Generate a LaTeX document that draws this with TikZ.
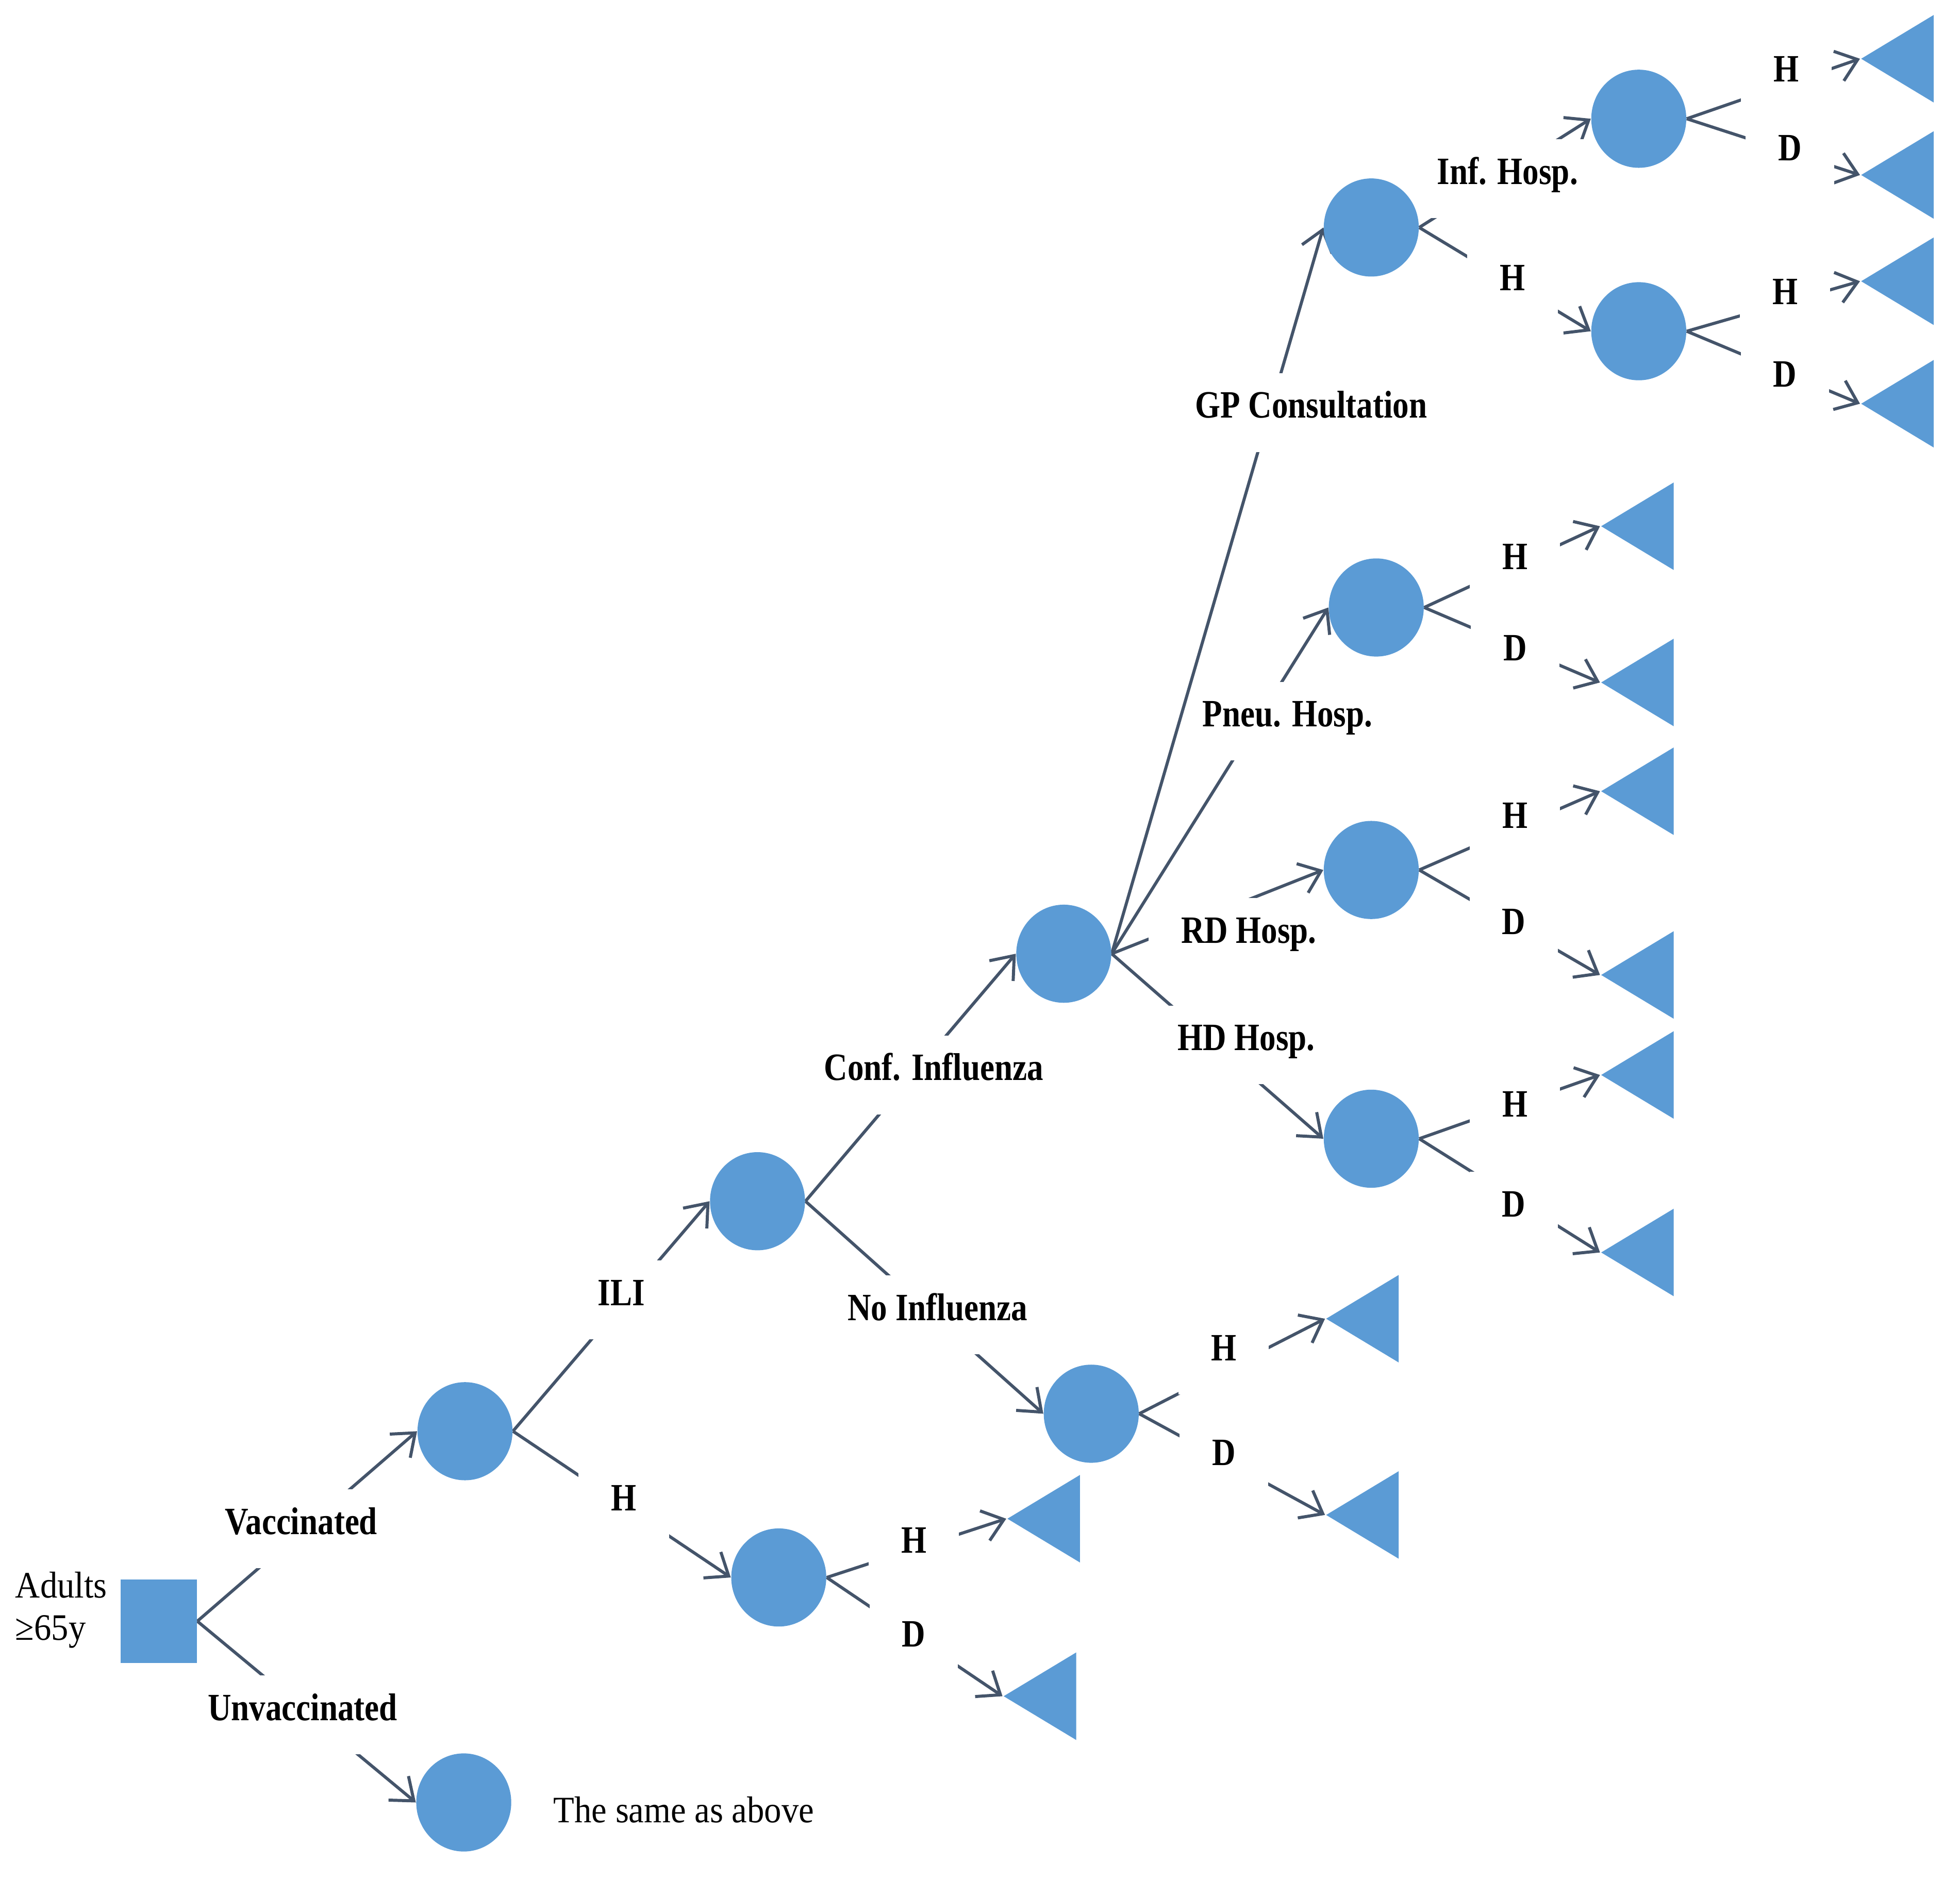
\documentclass[tikz,border=0pt]{standalone}
\usepackage{fontspec}
\setmainfont[FakeStretch=0.92]{Liberation Serif}
\newfontfamily\lblfont[FakeStretch=0.84]{Liberation Serif Bold}
\usetikzlibrary{arrows.meta,shapes.geometric,backgrounds}
\definecolor{treeBlue}{RGB}{91,155,213}
\definecolor{treeLine}{RGB}{68,84,106}

\begin{document}
\begin{tikzpicture}[
  x=0.2mm, y=-0.2mm,
  font=\fontsize{17}{19.3}\selectfont,
  decision/.style={rectangle, fill=treeBlue, inner sep=0,
    minimum width=12.2mm, minimum height=13.4mm},
  chance/.style={ellipse, fill=treeBlue, inner sep=0,
    minimum width=15.2mm, minimum height=15.7mm},
  leaf/.style={isosceles triangle, isosceles triangle stretches,
    shape border rotate=180, fill=treeBlue, inner sep=0,
    minimum width=14mm, minimum height=11.6mm, anchor=apex},
  branch/.style={treeLine, line width=1.4pt,
    -{Straight Barb[length=3.2mm,width=5mm]}},
  brlabel/.style={fill=white, inner xsep=5.2mm, minimum height=12.6mm,
    text height=0.7em, text depth=0.2em,
    font=\fontsize{17.6}{20}\lblfont}
]
  \useasboundingbox (0,0) rectangle (1568,1503);

  % decision and chance nodes
  \node[decision] (root) at (127,1297) {};
  \node[inner sep=0, anchor=west, align=left] (adults) at (12,1288)
    {Adults\\≥65y};
  \node[chance] (vac)   at (372,1145) {};
  \node[chance] (unvac) at (371,1442) {};
  \node (same) at (547,1448) {The same as above};
  \node[chance] (ili)   at (606,961)  {};
  \node[chance] (hosp)  at (623,1262) {};
  \node[chance] (conf)  at (851,763)  {};
  \node[chance] (noinf) at (873,1131) {};
  \node[chance] (gp)    at (1097,182) {};
  \node[chance] (pneu)  at (1101,486) {};
  \node[chance] (rd)    at (1097,696) {};
  \node[chance] (hd)    at (1097,911) {};
  \node[chance] (infh)  at (1311,95)  {};
  \node[chance] (gph)   at (1311,265) {};

  % terminal nodes
  \node[leaf] (hospH)  at (805,1215)  {};
  \node[leaf] (hospD)  at (802,1357)  {};
  \node[leaf] (noinfH) at (1060,1055) {};
  \node[leaf] (noinfD) at (1060,1212) {};
  \node[leaf] (infhH)  at (1488,47)   {};
  \node[leaf] (infhD)  at (1488,140)  {};
  \node[leaf] (gphH)   at (1488,225)  {};
  \node[leaf] (gphD)   at (1488,323)  {};
  \node[leaf] (pneuH)  at (1280,421)  {};
  \node[leaf] (pneuD)  at (1280,546)  {};
  \node[leaf] (rdH)    at (1280,633)  {};
  \node[leaf] (rdD)    at (1280,780)  {};
  \node[leaf] (hdH)    at (1280,860)  {};
  \node[leaf] (hdD)    at (1280,1002) {};

  \begin{scope}[on background layer]
    % branches
    \draw[branch] (root.east) -- (vac.west);
    \draw[branch] (root.east) -- (unvac.west);
    \draw[branch] (vac.east) -- (ili.west);
    \draw[branch] (vac.east) -- (hosp.west);
    \draw[branch] (hosp.east) -- (hospH.apex);
    \draw[branch] (hosp.east) -- (hospD.apex);
    \draw[branch] (ili.east) -- (conf.west);
    \draw[branch] (ili.east) -- (noinf.west);
    \draw[branch] (noinf.east) -- (noinfH.apex);
    \draw[branch] (noinf.east) -- (noinfD.apex);
    \draw[branch] (conf.east) -- (gp.west);
    \draw[branch] (conf.east) -- (pneu.west);
    \draw[branch] (conf.east) -- (rd.west);
    \draw[branch] (conf.east) -- (hd.west);
    \draw[branch] (gp.east) -- (infh.west);
    \draw[branch] (gp.east) -- (gph.west);
    \draw[branch] (infh.east) -- (infhH.apex);
    \draw[branch] (infh.east) -- (infhD.apex);
    \draw[branch] (gph.east) -- (gphH.apex);
    \draw[branch] (gph.east) -- (gphD.apex);
    \draw[branch] (pneu.east) -- (pneuH.apex);
    \draw[branch] (pneu.east) -- (pneuD.apex);
    \draw[branch] (rd.east) -- (rdH.apex);
    \draw[branch] (rd.east) -- (rdD.apex);
    \draw[branch] (hd.east) -- (hdH.apex);
    \draw[branch] (hd.east) -- (hdD.apex);

    % branch labels
    \node[brlabel] at (241,1223) {Vaccinated};
    \node[brlabel] at (242,1372) {Unvaccinated};
    \node[brlabel] at (497,1040) {ILI};
    \node[brlabel] at (499,1204) {H};
    \node[brlabel] at (731,1238) {H};
    \node[brlabel] at (731,1313) {D};
    \node[brlabel] at (747,860)  {Conf. Influenza};
    \node[brlabel] at (750,1052) {No Influenza};
    \node[brlabel] at (979,1084) {H};
    \node[brlabel] at (979,1168) {D};
    \node[brlabel] at (1049,330) {GP Consultation};
    \node[brlabel, inner xsep=0.5mm] at (1030,577) {Pneu. Hosp.};
    \node[brlabel] at (999,750)  {RD Hosp.};
    \node[brlabel] at (997,836)  {HD Hosp.};
    \node[brlabel] at (1206,143) {Inf. Hosp.};
    \node[brlabel] at (1210,228) {H};
    \node[brlabel] at (1429,61)  {H};
    \node[brlabel] at (1432,124) {D};
    \node[brlabel] at (1428,239) {H};
    \node[brlabel] at (1428,305) {D};
    \node[brlabel] at (1212,451) {H};
    \node[brlabel] at (1212,524) {D};
    \node[brlabel] at (1212,658) {H};
    \node[brlabel] at (1211,743) {D};
    \node[brlabel] at (1212,889) {H};
    \node[brlabel] at (1211,969) {D};
  \end{scope}
\end{tikzpicture}
\end{document}
